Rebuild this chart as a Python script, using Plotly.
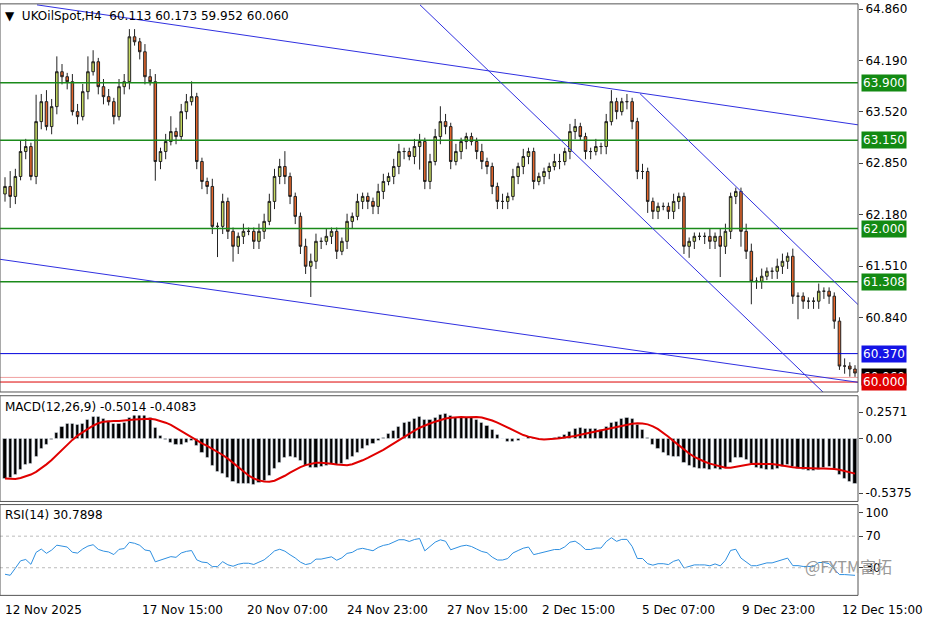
import plotly.graph_objects as go
import pandas as pd
import numpy as np

# close path (pixel-read, converted to price)
closes_px = [185,195,175,150,145,175,120,100,125,105,70,75,80,110,115,90,70,60,85,95,100,115,85,80,35,40,50,75,80,160,150,140,130,135,110,100,95,160,180,185,225,225,200,230,245,235,230,230,240,230,220,200,175,165,175,195,215,245,265,260,240,240,235,230,250,240,220,215,200,195,200,205,190,180,175,165,150,150,155,145,140,180,160,135,120,125,160,150,140,135,140,150,160,165,185,200,200,195,175,165,155,150,180,175,170,165,160,160,150,130,125,135,150,150,145,145,120,100,110,100,100,120,170,170,200,210,205,205,210,200,195,245,240,235,235,235,240,235,245,230,195,190,230,250,280,280,275,270,270,265,260,255,295,295,300,300,300,290,290,295,320,365,365,368,372]
closes = [round(60 + (381 - y) * 0.013, 3) for y in closes_px]
# earlier closes (before the visible window), only used to warm up indicators
history_closes = [64.2, 64.0, 63.9, 63.6, 63.7, 63.4, 63.2, 63.3, 63.0, 62.9, 63.0, 62.8, 62.7, 62.8, 62.6, 62.5, 62.6, 62.4, 62.5, 62.4]
opens = [62.45] + closes[:-1]
wick_up = [0.12,0.2,0.1,0.15,0.1,0.05,0.35,0.1,0.15,0.1,0.2,0.1,0.05,0.1,0.1,0.1,0.2,0.15,0.05,0.1,0.1,0.05,0.1,0.1,0.1,0.1,0.05,0.1,0.1,0.1,0.05,0.1,0.2,0.05,0.1,0.1,0.2,0.05,0.05,0.05,0.1,0.05,0.1,0.05,0.05,0.05,0.1,0.05,0.05,0.1,0.1,0.1,0.1,0.1,0.2,0.05,0.05,0.05,0.1,0.1,0.1,0.05,0.1,0.05,0.05,0.05,0.1,0.05,0.1,0.05,0.05,0.05,0.1,0.1,0.05,0.1,0.1,0.05,0.05,0.1,0.1,0.05,0.1,0.1,0.2,0.1,0.05,0.1,0.05,0.05,0.05,0.05,0.1,0.05,0.05,0.05,0.1,0.05,0.1,0.05,0.1,0.05,0.05,0.05,0.05,0.05,0.1,0.1,0.05,0.1,0.1,0.05,0.05,0.05,0.1,0.05,0.1,0.15,0.05,0.05,0.1,0.05,0.05,0.1,0.05,0.05,0.05,0.05,0.05,0.1,0.05,0.05,0.05,0.05,0.05,0.05,0.1,0.05,0.1,0.1,0.05,0.05,0.05,0.1,0.1,0.05,0.1,0.05,0.05,0.1,0.1,0.05,0.1,0.05,0.05,0.05,0.05,0.1,0.05,0.05,0.05,0.05,0.1,0.05,0.05]
wick_dn = [0.1,0.15,0.1,0.05,0.1,0.05,0.1,0.1,0.05,0.1,0.1,0.1,0.1,0.05,0.1,0.05,0.1,0.05,0.1,0.1,0.05,0.1,0.05,0.1,0.1,0.05,0.1,0.1,0.05,0.25,0.1,0.1,0.05,0.1,0.05,0.1,0.05,0.1,0.1,0.1,0.1,0.4,0.1,0.1,0.2,0.1,0.1,0.05,0.1,0.1,0.1,0.05,0.1,0.1,0.1,0.1,0.1,0.1,0.1,0.4,0.1,0.1,0.05,0.1,0.1,0.05,0.1,0.1,0.05,0.1,0.1,0.1,0.1,0.1,0.05,0.1,0.1,0.1,0.05,0.1,0.3,0.1,0.1,0.05,0.1,0.1,0.1,0.05,0.1,0.1,0.05,0.1,0.1,0.1,0.1,0.1,0.1,0.1,0.05,0.1,0.1,0.1,0.1,0.05,0.1,0.1,0.05,0.1,0.05,0.1,0.1,0.05,0.1,0.1,0.05,0.1,0.1,0.05,0.1,0.05,0.1,0.1,0.1,0.1,0.15,0.1,0.1,0.05,0.1,0.1,0.1,0.1,0.15,0.1,0.05,0.1,0.1,0.1,0.4,0.1,0.1,0.1,0.2,0.1,0.3,0.1,0.1,0.05,0.1,0.1,0.1,0.1,0.1,0.3,0.1,0.1,0.1,0.1,0.1,0.1,0.1,0.05,0.1,0.1,0.05,0.1]
n = len(closes)
wick_up = (wick_up + [0.05]*n)[:n]
wick_dn = (wick_dn + [0.05]*n)[:n]
highs = [max(o, c) + u for o, c, u in zip(opens, closes, wick_up)]
lows = [min(o, c) - d for o, c, d in zip(opens, closes, wick_dn)]

date_labels = ["12 Nov 2025","17 Nov 15:00","20 Nov 07:00","24 Nov 23:00","27 Nov 15:00","2 Dec 15:00","5 Dec 07:00","9 Dec 23:00","12 Dec 15:00"]
date_px = [3,140,245,345,445,540,640,740,840]
levels_green = [63.900, 63.150, 62.000, 61.308]
level_blue = 60.370
level_red = 60.000
level_last = 60.060
price_ticks = [64.860, 64.190, 63.520, 62.850, 62.180, 61.510, 60.840]
trend_px = [(37,3,870,125),(0,258,870,383),(420,3,825,393),(640,92,870,315)]

X0, X1 = 0, 858
def px2i(x): return (x - 5) / 850 * (n - 1)
def py2p(y): return 60 + (381 - y) * 0.013
idx = list(range(n))

h = len(history_closes)
s = pd.Series(history_closes + closes)
macd_all = s.ewm(span=12, adjust=False).mean() - s.ewm(span=26, adjust=False).mean()
signal_all = macd_all.rolling(9, min_periods=1).mean()
d = s.diff()
up = d.clip(lower=0).ewm(alpha=1/14, adjust=False).mean()
dn = (-d.clip(upper=0)).ewm(alpha=1/14, adjust=False).mean()
rsi_all = (100 - 100 / (1 + up / dn.replace(0, np.nan))).fillna(50)
macd = macd_all.iloc[h:].tolist()
signal = signal_all.iloc[h:].tolist()
rsi = rsi_all.iloc[h:].tolist()

fig = go.Figure()
fig.add_trace(go.Candlestick(x=idx, open=opens, high=highs, low=lows, close=closes,
    increasing=dict(fillcolor="#c5d960", line=dict(color="#222", width=1)),
    decreasing=dict(fillcolor="#e4652a", line=dict(color="#222", width=1)),
    whiskerwidth=0, xaxis="x", yaxis="y", showlegend=False))
fig.add_trace(go.Bar(x=idx, y=macd, marker_color="black", width=0.6, xaxis="x", yaxis="y2", showlegend=False))
fig.add_trace(go.Scatter(x=idx, y=signal, mode="lines", line=dict(color="#e00000", width=2), xaxis="x", yaxis="y2", showlegend=False))
fig.add_trace(go.Scatter(x=idx, y=rsi, mode="lines", line=dict(color="#2e8fe0", width=1), xaxis="x", yaxis="y3", showlegend=False))

xr = [px2i(X0), px2i(X1)]
shapes = []
for lv in levels_green:
    shapes.append(dict(type="line", xref="x", yref="y", x0=xr[0], x1=xr[1], y0=lv, y1=lv, line=dict(color="#1a8a1a", width=1.5)))
shapes.append(dict(type="line", xref="x", yref="y", x0=xr[0], x1=xr[1], y0=level_blue, y1=level_blue, line=dict(color="#0000dd", width=1)))
shapes.append(dict(type="line", xref="x", yref="y", x0=xr[0], x1=xr[1], y0=level_red, y1=level_red, line=dict(color="#dd0000", width=1)))
shapes.append(dict(type="line", xref="x", yref="y", x0=xr[0], x1=xr[1], y0=level_last, y1=level_last, line=dict(color="#f0a0a0", width=1)))
for (a, b, c, e) in trend_px:
    shapes.append(dict(type="line", xref="x", yref="y", x0=px2i(a), x1=px2i(c), y0=py2p(b), y1=py2p(e), line=dict(color="#3030e0", width=1)))
for lv in [70, 30]:
    shapes.append(dict(type="line", xref="x", yref="y3", x0=xr[0], x1=xr[1], y0=lv, y1=lv, line=dict(color="#bbb", width=1, dash="dot")))
for dom in [(0.373, 0.997), (0.197, 0.367), (0.046, 0.192)]:
    shapes.append(dict(type="rect", xref="paper", yref="paper", x0=0, x1=X1/936, y0=dom[0], y1=dom[1], line=dict(color="#555", width=1)))

ann = []
F = "DejaVu Sans"
def box(v, txt, bg, fg="white"):
    ann.append(dict(x=X1/936 + 0.003, xref="paper", y=v, yref="y", text=txt, showarrow=False, xanchor="left",
        font=dict(family=F, size=12, color=fg), bgcolor=bg, borderpad=1))
for lv in levels_green:
    box(lv, f"{lv:.3f}", "#138a13")
box(level_blue, f"{level_blue:.3f}", "#1414e6")
box(level_last, f"{level_last:.3f}", "#000000")
box(level_red, f"{level_red:.3f}", "#e00000")
for lab, p in zip(date_labels, date_px):
    ann.append(dict(x=p/936, xref="paper", y=0.008, yref="paper", text=lab, showarrow=False, xanchor="left",
        font=dict(family=F, size=12, color="black")))
ann.append(dict(x=0.003, xref="paper", y=0.992, yref="paper", text="▼  UKOilSpot,H4  60.113 60.173 59.952 60.060", showarrow=False,
    xanchor="left", yanchor="top", font=dict(family=F, size=12, color="black")))
ann.append(dict(x=0.003, xref="paper", y=0.364, yref="paper", text="MACD(12,26,9) -0.5014 -0.4083", showarrow=False,
    xanchor="left", yanchor="top", font=dict(family=F, size=12, color="black"), bgcolor="white"))
ann.append(dict(x=0.003, xref="paper", y=0.189, yref="paper", text="RSI(14) 30.7898", showarrow=False,
    xanchor="left", yanchor="top", font=dict(family=F, size=12, color="black")))
ann.append(dict(x=0.955, xref="paper", y=0.07, yref="paper", text="@FXTM富拓", showarrow=False,
    font=dict(family="Noto Sans CJK SC", size=16, color="#999")))

fig.update_layout(
    width=936, height=624, margin=dict(l=0, r=0, t=0, b=0),
    paper_bgcolor="white", plot_bgcolor="white", bargap=0,
    shapes=shapes, annotations=ann,
    xaxis=dict(domain=[0, X1/936], range=xr, showgrid=False, showticklabels=False, rangeslider=dict(visible=False), zeroline=False),
    yaxis=dict(domain=[0.373, 0.997], range=[py2p(391), py2p(2)], side="right", tickvals=price_ticks, ticktext=[f"{t:.3f}" for t in price_ticks],
        showgrid=False, ticks="outside", ticklen=4, tickfont=dict(family=F, size=12, color="black"), zeroline=False),
    yaxis2=dict(domain=[0.197, 0.367], anchor="x", side="right", range=[-0.62, 0.42], tickvals=[0.2571, 0, -0.5375], ticktext=["0.2571", "0.00", "-0.5375"],
        showgrid=False, ticks="outside", ticklen=4, tickfont=dict(family=F, size=12, color="black"), zeroline=False),
    yaxis3=dict(domain=[0.046, 0.192], anchor="x", side="right", range=[-5, 110], tickvals=[100, 70, 30], showgrid=False,
        ticks="outside", ticklen=4, tickfont=dict(family=F, size=12, color="black"), zeroline=False),
)
fig.write_html("out.html", config={"displayModeBar": False})
with open("out.html", encoding="utf-8") as f:
    html = f.read()
html = html.replace("<head>", "<head><style>html,body{margin:0;padding:0;}</style>", 1)
with open("out.html", "w", encoding="utf-8") as f:
    f.write(html)
